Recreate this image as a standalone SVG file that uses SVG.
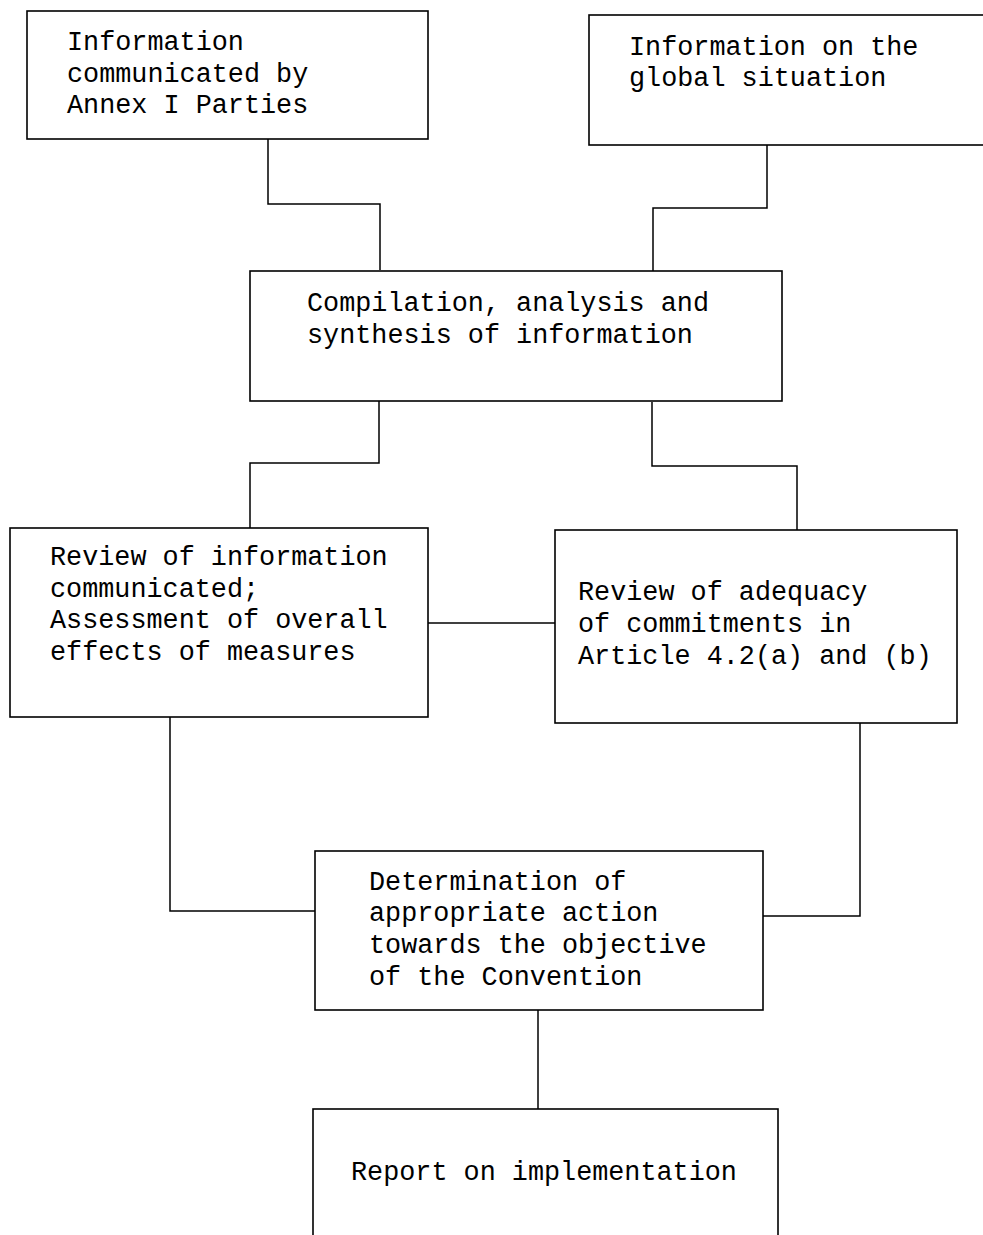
<svg xmlns="http://www.w3.org/2000/svg" width="983" height="1235" viewBox="0 0 983 1235">
<style>
.box{fill:#fff;stroke:#000;stroke-width:1.6}
.con{fill:none;stroke:#000;stroke-width:1.5}
text{font-family:"Liberation Mono","Courier New",monospace;font-size:26.8px;fill:#000}
</style>
<rect width="983" height="1235" fill="#fff"/>
<g id="connectors">
<polyline class="con" points="268,139 268,204 380,204 380,270"/>
<polyline class="con" points="767,145 767,208 653,208 653,272"/>
<polyline class="con" points="379,400 379,463 250,463 250,528"/>
<polyline class="con" points="652,402 652,466 797,466 797,530"/>
<line class="con" x1="428" y1="623" x2="555" y2="623"/>
<polyline class="con" points="170,717 170,911 315,911"/>
<polyline class="con" points="860,723 860,916 763,916"/>
<line class="con" x1="538" y1="1010" x2="538" y2="1109"/>
</g>
<g id="n1">
<rect class="box" x="27" y="11" width="401" height="128"/>
<text x="67" y="50">Information</text>
<text x="67" y="82">communicated by</text>
<text x="67" y="113">Annex I Parties</text>
</g>
<g id="n2">
<rect class="box" x="589" y="15" width="420" height="130"/>
<text x="629" y="55">Information on the</text>
<text x="629" y="86">global situation</text>
</g>
<g id="n3">
<rect class="box" x="250" y="271" width="532" height="130"/>
<text x="307" y="311">Compilation, analysis and</text>
<text x="307" y="343">synthesis of information</text>
</g>
<g id="n4">
<rect class="box" x="10" y="528" width="418" height="189"/>
<text x="50" y="565">Review of information</text>
<text x="50" y="597">communicated;</text>
<text x="50" y="628">Assessment of overall</text>
<text x="50" y="660">effects of measures</text>
</g>
<g id="n5">
<rect class="box" x="555" y="530" width="402" height="193"/>
<text x="578" y="600">Review of adequacy</text>
<text x="578" y="632">of commitments in</text>
<text x="578" y="664">Article 4.2(a) and (b)</text>
</g>
<g id="n6">
<rect class="box" x="315" y="851" width="448" height="159"/>
<text x="369" y="890">Determination of</text>
<text x="369" y="921">appropriate action</text>
<text x="369" y="953">towards the objective</text>
<text x="369" y="985">of the Convention</text>
</g>
<g id="n7">
<rect class="box" x="313" y="1109" width="465" height="150"/>
<text x="351" y="1180">Report on implementation</text>
</g>
</svg>
